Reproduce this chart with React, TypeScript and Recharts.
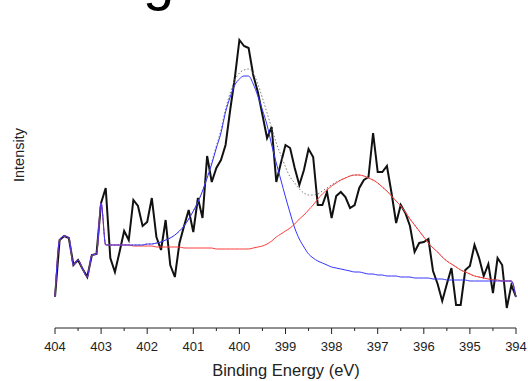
import React from 'react'
import { LineChart, Line, XAxis, YAxis } from 'recharts'

// ------------------------------------------------------------
// XPS N 1s spectrum: raw counts + two fitted components
// ------------------------------------------------------------

// binding energy grid (eV), 0.1 eV step, high -> low
const bindingEnergy = [
  404.0, 403.9, 403.8, 403.7, 403.6, 403.5, 403.4, 403.3, 403.2, 403.1,
  403.0, 402.9, 402.8, 402.7, 402.6, 402.5, 402.4, 402.3, 402.2, 402.1,
  402.0, 401.9, 401.8, 401.7, 401.6, 401.5, 401.4, 401.3, 401.2, 401.1,
  401.0, 400.9, 400.8, 400.7, 400.6, 400.5, 400.4, 400.3, 400.2, 400.1,
  400.0, 399.9, 399.8, 399.7, 399.6, 399.5, 399.4, 399.3, 399.2, 399.1,
  399.0, 398.9, 398.8, 398.7, 398.6, 398.5, 398.4, 398.3, 398.2, 398.1,
  398.0, 397.9, 397.8, 397.7, 397.6, 397.5, 397.4, 397.3, 397.2, 397.1,
  397.0, 396.9, 396.8, 396.7, 396.6, 396.5, 396.4, 396.3, 396.2, 396.1,
  396.0, 395.9, 395.8, 395.7, 395.6, 395.5, 395.4, 395.3, 395.2, 395.1,
  395.0, 394.9, 394.8, 394.7, 394.6, 394.5, 394.4, 394.3, 394.2, 394.1,
  394.0,
]

// measured intensity (a.u.)
const rawCounts = [
  31, 88, 92, 90, 63, 68, 59, 51, 73, 74,
  125, 140, 70, 56, 76, 97, 88, 128, 122, 102,
  106, 130, 91, 78, 108, 63, 51, 85, 102, 118,
  96, 130, 110, 172, 146, 160, 168, 183, 218, 250,
  288, 282, 280, 253, 236, 213, 190, 201, 146, 165,
  183, 180, 160, 143, 158, 179, 171, 123, 123, 136,
  110, 132, 136, 131, 120, 123, 140, 148, 151, 195,
  156, 156, 162, 135, 105, 123, 115, 102, 76, 85,
  86, 89, 57, 44, 27, 44, 60, 23, 23, 58,
  62, 83, 70, 52, 64, 35, 70, 63, 20, 43,
  31,
]

// component 1 (~399.8 eV) incl. background
const peakHigh = [
  31, 88, 92, 90, 63, 68, 59, 51, 73, 74,
  125, 83, 83, 83, 83, 83, 83, 83, 83, 83,
  84, 84, 85, 86, 88, 90, 93, 97, 102, 109,
  117, 126, 137, 150, 164, 180, 195, 216, 231, 243,
  249, 252, 252, 244, 232, 218, 203, 183, 165, 148,
  131, 115, 100, 89, 81, 74, 70, 67, 65, 63,
  61, 60, 59, 58, 57, 56, 56, 55, 54, 54,
  53, 53, 52, 52, 52, 51, 51, 51, 50, 50,
  50, 50, 49, 49, 49, 48, 48, 48, 48, 48,
  47, 47, 47, 47, 47, 47, 47, 47, 47, 47,
  31,
]

// component 2 (~397.5 eV) incl. background
const peakLow = [
  31, 88, 92, 90, 63, 68, 59, 51, 73, 74,
  125, 83, 83, 83, 83, 83, 83, 82, 82, 82,
  82, 82, 81, 81, 81, 81, 81, 81, 80, 80,
  80, 80, 80, 80, 80, 79, 79, 79, 79, 79,
  79, 79, 79, 80, 81, 82, 84, 87, 91, 94,
  97, 100, 104, 109, 113, 118, 123, 129, 134, 138,
  142, 145, 148, 150, 152, 153, 153, 152, 150, 148,
  145, 141, 137, 132, 127, 122, 116, 109, 103, 97,
  91, 85, 80, 76, 71, 67, 64, 61, 58, 56,
  54, 52, 51, 50, 49, 48, 48, 47, 47, 47,
  31,
]

// fitted envelope
const envelope = [
  31, 88, 92, 90, 63, 68, 59, 51, 73, 74,
  125, 83, 83, 83, 83, 83, 83, 83, 83, 83,
  84, 84, 85, 86, 88, 90, 93, 97, 102, 109,
  117, 126, 137, 151, 166, 182, 198, 219, 235, 248,
  255, 258, 259, 255, 244, 230, 215, 200, 185, 173,
  161, 151, 145, 139, 135, 133, 133, 134, 137, 140,
  143, 146, 148, 150, 152, 153, 153, 152, 150, 148,
  145, 141, 137, 132, 127, 122, 116, 109, 103, 97,
  91, 85, 80, 76, 71, 67, 64, 61, 58, 56,
  54, 52, 51, 50, 49, 48, 48, 47, 47, 47,
  31,
]

// major ticks every 1 eV, minor every 0.5 eV
const energyTicks = [
  404, 403.5, 403, 402.5, 402, 401.5, 401, 400.5, 400, 399.5, 399,
  398.5, 398, 397.5, 397, 396.5, 396, 395.5, 395, 394.5, 394,
]

const data = bindingEnergy.map((be, i) => ({
  be,
  raw: rawCounts[i],
  p1: peakHigh[i],
  p2: peakLow[i],
  env: envelope[i],
}))

const FONT = "'Liberation Sans', Arial, sans-serif"

function EnergyTick({ x, y, payload }: any) {
  const major = Number.isInteger(payload.value)
  return (
    <g>
      <line x1={x} x2={x} y1={y} y2={y + (major ? 6 : 3)} stroke="#222" />
      {major && (
        <text x={x} y={y + 23} textAnchor="middle" fontSize={13} fill="#222" fontFamily={FONT}>
          {payload.value}
        </text>
      )}
    </g>
  )
}

export default function App() {
  return (
    <div style={{ position: 'fixed', left: 0, top: 0, width: 528, height: 381, background: '#fff' }}>
      <LineChart width={528} height={381} data={data} margin={{ top: 11, right: 12, bottom: 0, left: 55 }}>
        <XAxis
          dataKey="be"
          type="number"
          domain={[394, 404]}
          reversed
          ticks={energyTicks}
          interval={0}
          allowDecimals
          height={53}
          tickSize={0}
          tickMargin={0}
          tickLine={false}
          tick={<EnergyTick />}
          axisLine={{ stroke: '#222' }}
        />
        <YAxis
          type="number"
          domain={[0, 317]}
          width={0}
          tick={false}
          tickLine={false}
          axisLine={{ stroke: '#222' }}
        />
        <Line dataKey="raw" stroke="#111" strokeWidth={2} dot={false} type="linear" isAnimationActive={false} />
        <Line dataKey="env" stroke="#777" strokeWidth={1} strokeDasharray="1.5 2" dot={false} type="monotone" isAnimationActive={false} />
        <Line dataKey="p2" stroke="#ff3c3c" strokeWidth={1} dot={false} type="monotone" isAnimationActive={false} />
        <Line dataKey="p1" stroke="#3434ff" strokeWidth={1} dot={false} type="monotone" isAnimationActive={false} />
      </LineChart>
      <svg width={528} height={381} style={{ position: 'absolute', left: 0, top: 0, pointerEvents: 'none' }}>
        <text x={143} y={-1} fontSize={56} fill="#000" fontFamily={FONT}>g</text>
        <text
          x={24}
          y={155}
          transform="rotate(-90 24 155)"
          textAnchor="middle"
          fontSize={14.5}
          fill="#222"
          fontFamily={FONT}
        >
          Intensity
        </text>
        <text x={286} y={376} textAnchor="middle" fontSize={16.5} fill="#222" fontFamily={FONT}>
          Binding Energy (eV)
        </text>
      </svg>
    </div>
  )
}
